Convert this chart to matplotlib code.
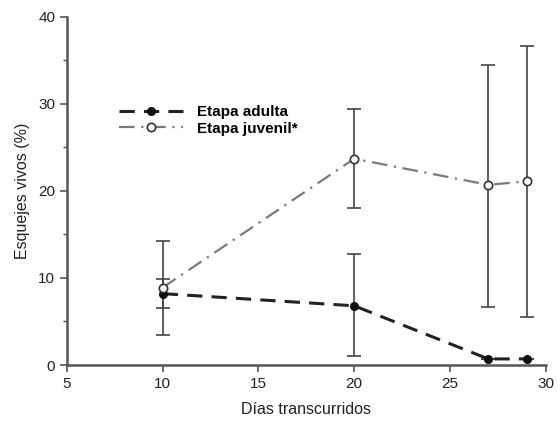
import matplotlib.pyplot as plt
from matplotlib.ticker import MultipleLocator

plt.rcParams['font.family'] = ['Liberation Sans', 'DejaVu Sans']

# datos
dias = [10, 20, 27, 29]
adulta = [8.2, 6.8, 0.7, 0.7]
adulta_inf = [6.5, 1.0, 0.7, 0.7]
adulta_sup = [9.9, 12.7, 0.7, 0.7]
juvenil = [8.9, 23.7, 20.7, 21.1]
juvenil_inf = [3.4, 18.0, 6.7, 5.5]
juvenil_sup = [14.3, 29.4, 34.5, 36.7]

fig = plt.figure(figsize=(5.58, 4.21), dpi=100)
ax = fig.add_axes([0.12, 0.133, 0.858, 0.827])

eje = '#555555'

err_a = [[a - lo for a, lo in zip(adulta, adulta_inf)], [hi - a for a, hi in zip(adulta, adulta_sup)]]
err_j = [[j - lo for j, lo in zip(juvenil, juvenil_inf)], [hi - j for j, hi in zip(juvenil, juvenil_sup)]]

ax.errorbar(dias, adulta, yerr=err_a, fmt='none', ecolor='#444444', elinewidth=1.2, capsize=5, capthick=1.2, zorder=2)
ax.errorbar(dias, juvenil, yerr=err_j, fmt='none', ecolor='#444444', elinewidth=1.2, capsize=5, capthick=1.2, zorder=2)

ax.plot(dias, adulta, color='#222222', ls=(0, (5, 3)), lw=2.2, marker='o', markersize=5.5,
        markerfacecolor='#111111', markeredgecolor='#111111', label='Etapa adulta', zorder=3)
ax.plot(dias, juvenil, color='#7a7a7a', ls=(0, (7, 3, 1, 3)), lw=1.6, marker='o', markersize=6,
        markerfacecolor='white', markeredgecolor='#333333', markeredgewidth=1.2,
        label='Etapa juvenil*', zorder=4)

ax.set_xlim(5, 30)
ax.set_ylim(0, 40)
ax.xaxis.set_major_locator(MultipleLocator(5))
ax.yaxis.set_major_locator(MultipleLocator(10))
ax.yaxis.set_minor_locator(MultipleLocator(5))

for s in ['top', 'right']:
    ax.spines[s].set_visible(False)
for s in ['left', 'bottom']:
    ax.spines[s].set_color(eje)
    ax.spines[s].set_linewidth(1.8)

ax.tick_params(axis='both', which='major', length=5, width=1.2, color=eje, labelsize=11, labelcolor='#222222')
ax.tick_params(axis='y', which='minor', length=3, width=1, color=eje)

ax.set_xlabel('Días transcurridos', fontsize=11.5, color='#222222', labelpad=8)
ax.set_ylabel('Esquejes vivos (%)', fontsize=11.5, color='#222222', labelpad=6)

leg = ax.legend(loc='upper left', bbox_to_anchor=(0.08, 0.785), frameon=False,
                prop={'weight': 'bold', 'size': 11}, handlelength=4.2, handletextpad=0.9,
                labelspacing=0.15)

fig.savefig('out.png', dpi=100)
